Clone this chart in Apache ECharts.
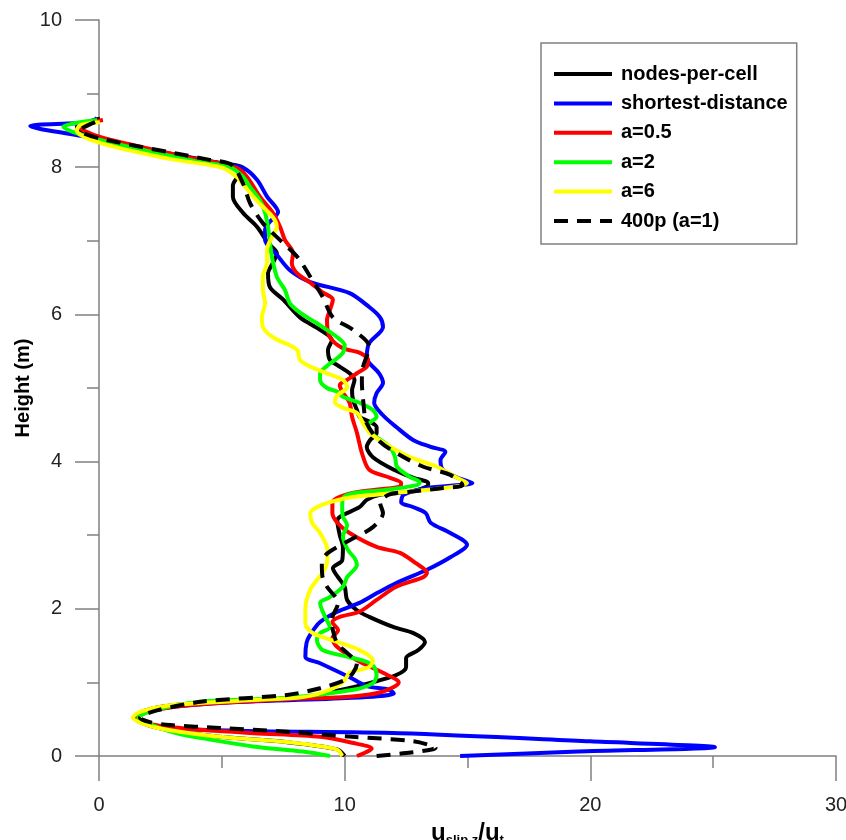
<!DOCTYPE html>
<html><head><meta charset="utf-8">
<script src="https://cdn.jsdelivr.net/npm/echarts@6/dist/echarts.min.js"></script>
<style>html,body{margin:0;padding:0;background:#fff}#c{width:846px;height:840px}</style>
</head><body><div id="c"></div>
<script>
const seriesNames = ['nodes-per-cell','shortest-distance','a=0.5','a=2','a=6','400p (a=1)'];
const xTicks = [0,10,20,30];
const yTicks = [0,2,4,6,8,10];

const nodesPerCell = [[10.0,0.0],[9.7,0.09],[7.6,0.19],[4.9,0.26],[2.9,0.35],[1.9,0.43],[1.45,0.52],[1.8,0.61],[3.0,0.69],[6.3,0.76],[8.4,0.8],[9.6,0.88],[11.0,0.99],[12.1,1.1],[12.5,1.21],[12.5,1.33],[13.0,1.44],[13.27,1.55],[12.8,1.67],[12.0,1.75],[11.0,1.89],[10.5,1.98],[10.1,2.12],[10.0,2.3],[9.73,2.43],[9.52,2.55],[9.9,2.66],[9.93,2.84],[9.8,3.0],[9.7,3.2],[10.6,3.38],[10.9,3.48],[11.44,3.55],[12.66,3.59],[13.35,3.66],[13.4,3.71],[12.8,3.78],[12.0,3.89],[11.15,4.06],[10.9,4.2],[11.03,4.29],[11.3,4.39],[11.3,4.47],[11.03,4.54],[10.6,4.61],[10.5,4.7],[10.34,4.84],[10.3,4.97],[10.4,5.11],[10.2,5.2],[9.7,5.31],[9.4,5.38],[9.32,5.52],[9.48,5.65],[9.0,5.79],[8.18,5.96],[7.5,6.2],[6.96,6.37],[6.88,6.56],[7.08,6.7],[7.24,6.83],[6.88,6.97],[6.43,7.19],[5.86,7.38],[5.45,7.6],[5.45,7.75],[5.6,7.85],[5.9,7.98],[4.5,8.08],[0.04,8.38],[-0.9,8.55],[0.04,8.66]];
const shortestDistance = [[14.7,0.0],[19.5,0.06],[25.07,0.12],[20,0.2],[12.25,0.31],[6,0.34],[3,0.37],[2.0,0.42],[1.55,0.52],[2.2,0.63],[4.9,0.72],[10.3,0.79],[12.0,0.85],[11.8,0.9],[10.9,0.95],[10.2,1.07],[9.0,1.26],[8.4,1.35],[8.45,1.54],[8.6,1.65],[9.0,1.82],[9.7,1.96],[10.6,2.08],[11.3,2.21],[12.1,2.35],[13.35,2.53],[14.3,2.7],[14.98,2.87],[14.3,3.03],[13.5,3.17],[13.3,3.30],[12.8,3.38],[12.3,3.45],[12.4,3.55],[13.35,3.64],[15.2,3.71],[14.6,3.78],[14.0,3.89],[13.9,4.02],[14.1,4.13],[13.5,4.2],[12.8,4.29],[12.1,4.47],[11.56,4.63],[11.2,4.80],[11.3,4.93],[11.56,5.07],[11.4,5.2],[11.0,5.34],[10.9,5.42],[11.0,5.61],[11.56,5.83],[11.44,5.96],[11.0,6.1],[10.2,6.29],[8.6,6.44],[7.77,6.6],[7.24,6.81],[6.76,7.01],[6.76,7.15],[6.96,7.26],[7.29,7.39],[6.84,7.6],[6.43,7.83],[5.86,7.99],[4.8,8.06],[2.5,8.2],[0.04,8.34],[-0.37,8.40],[-2.8,8.56],[-0.37,8.61],[-0.08,8.67]];
const a05 = [[10.5,0.0],[11.1,0.1],[10.3,0.18],[9.0,0.26],[6.3,0.31],[3.6,0.37],[2.5,0.41],[1.5,0.5],[2.0,0.6],[3.6,0.69],[7.65,0.77],[10.3,0.81],[11.5,0.87],[12.2,1.0],[11.56,1.13],[10.5,1.3],[9.7,1.48],[9.5,1.6],[9.73,1.71],[9.5,1.82],[9.8,1.89],[10.6,1.96],[11.3,2.12],[12.1,2.3],[13.2,2.43],[13.35,2.49],[12.9,2.62],[12.25,2.76],[11.3,2.84],[10.2,3.03],[9.7,3.17],[9.5,3.3],[9.5,3.44],[9.8,3.52],[10.6,3.59],[12.25,3.66],[12.3,3.71],[11.85,3.78],[11.0,3.89],[10.7,4.12],[10.5,4.39],[10.3,4.61],[10.2,4.8],[9.9,4.95],[9.8,5.04],[10.1,5.11],[10.5,5.2],[10.9,5.29],[10.95,5.38],[10.6,5.48],[9.93,5.54],[9.4,5.69],[9.28,5.92],[9.4,6.06],[9.52,6.2],[9.1,6.3],[8.6,6.43],[8.06,6.56],[7.85,6.7],[7.9,6.83],[7.57,7.01],[7.37,7.19],[7.08,7.38],[6.55,7.6],[6.02,7.87],[5.6,7.99],[4.8,8.06],[4.1,8.1],[0.04,8.41],[-0.8,8.55],[0.16,8.64]];
const a2 = [[9.4,0.0],[8.3,0.06],[6.27,0.13],[4.23,0.24],[3.17,0.31],[2.48,0.38],[1.8,0.47],[1.6,0.52],[2.2,0.62],[4.23,0.74],[7.65,0.79],[10.35,0.9],[11.15,0.99],[11.3,1.1],[11.2,1.21],[10.9,1.28],[10.1,1.35],[9.1,1.44],[8.87,1.58],[9.0,1.67],[9.4,1.75],[9.2,1.89],[9.0,2.08],[9.4,2.16],[9.93,2.3],[10.1,2.43],[10.5,2.6],[10.4,2.69],[10.13,2.8],[9.93,2.98],[10.1,3.14],[9.93,3.25],[9.9,3.38],[9.93,3.5],[10.34,3.57],[11.56,3.61],[12.94,3.68],[13.06,3.72],[12.66,3.79],[12.13,3.93],[12.05,4.06],[11.84,4.2],[11.3,4.33],[10.95,4.43],[11.0,4.52],[11.3,4.61],[11.15,4.7],[10.6,4.8],[9.93,4.88],[9.7,4.95],[9.28,5.0],[9.0,5.11],[9.0,5.2],[9.28,5.3],[9.6,5.38],[9.93,5.48],[10.0,5.58],[9.7,5.69],[8.87,5.88],[8.2,6.02],[7.77,6.15],[7.57,6.33],[7.24,6.51],[7.04,6.78],[6.96,6.97],[6.88,7.19],[6.76,7.38],[6.55,7.55],[6.15,7.73],[5.86,7.87],[5.33,8.0],[4.1,8.07],[0.04,8.37],[-1.45,8.55],[-0.08,8.64]];
const a6 = [[9.9,0.0],[9.73,0.08],[9.28,0.12],[7.65,0.19],[4.92,0.26],[2.9,0.35],[1.95,0.42],[1.38,0.52],[1.67,0.6],[2.9,0.69],[6.27,0.76],[8.3,0.8],[9.4,0.9],[10.0,1.03],[10.2,1.13],[11.0,1.21],[11.15,1.3],[10.6,1.44],[9.7,1.55],[8.7,1.67],[8.4,1.8],[8.4,1.98],[8.6,2.26],[9.1,2.49],[9.28,2.62],[9.3,2.8],[9.0,3.03],[8.67,3.17],[8.6,3.3],[8.87,3.38],[9.4,3.45],[10.34,3.52],[11.97,3.57],[14.0,3.64],[14.98,3.71],[14.57,3.78],[13.76,3.93],[12.66,4.06],[11.72,4.23],[11.03,4.39],[10.75,4.52],[10.5,4.66],[9.93,4.73],[9.6,4.81],[9.7,4.9],[10.1,5.01],[9.93,5.11],[9.28,5.2],[8.6,5.29],[8.18,5.38],[8.06,5.52],[7.08,5.69],[6.67,5.83],[6.63,5.96],[6.76,6.15],[6.67,6.33],[6.67,6.51],[6.84,6.7],[6.84,6.88],[7.04,7.05],[7.24,7.19],[7.08,7.32],[6.67,7.46],[6.15,7.65],[5.6,7.87],[5.05,7.99],[4.5,8.03],[2.77,8.12],[0.04,8.33],[-0.9,8.5],[-0.77,8.57],[0.04,8.61]];
const p400 = [[11.3,0.0],[12.5,0.04],[13.7,0.11],[12.8,0.2],[10.3,0.26],[7.65,0.33],[4.92,0.38],[2.9,0.42],[2.07,0.46],[1.67,0.52],[2.36,0.62],[4.23,0.74],[7.65,0.83],[9.0,0.92],[10.0,1.03],[10.34,1.13],[10.5,1.26],[10.1,1.4],[9.7,1.53],[9.52,1.71],[9.48,1.85],[9.73,2.08],[9.28,2.3],[9.1,2.43],[9.07,2.62],[9.32,2.76],[10.2,2.93],[11.15,3.11],[11.56,3.3],[11.44,3.44],[11.8,3.55],[12.66,3.59],[14.0,3.64],[14.8,3.68],[14.3,3.82],[13.2,3.93],[12.25,4.09],[11.44,4.27],[10.9,4.52],[10.75,4.84],[10.7,5.1],[10.75,5.29],[11.0,5.56],[10.34,5.79],[9.52,5.96],[9.1,6.24],[8.6,6.51],[8.1,6.77],[7.37,7.01],[6.67,7.24],[6.15,7.51],[5.86,7.78],[5.41,8.03],[4.5,8.1],[0.04,8.39],[-0.77,8.5],[0.04,8.64]];

const chart = echarts.init(document.getElementById('c'), null, {renderer:'canvas'});
const axisGray = '#808080';
const FONT = 'Liberation Sans, Arial, sans-serif';
// data grid spans x from -3 to 30 at the same scale as the visible axis grid (0..30)
const plotLeft = 99, plotRight = 10, plotTop = 20, plotBottom = 84;
const xMinData = -3, xMax = 30;
const pxPerUnit = (846 - plotLeft - plotRight) / xMax;
const dataLeft = plotLeft + xMinData * pxPerUnit;

function mk(name, data, color, z, dashed){
  return {name, type:'line', data, z, clip:false, symbol:'none', smooth:0.3,
    xAxisIndex:0, yAxisIndex:0,
    lineStyle:{color, width:4, type: dashed ? [14,9] : 'solid', cap:'butt', join:'round'},
    itemStyle:{color}};
}
chart.setOption({
  animation:false,
  backgroundColor:'#fff',
  grid:[
    {left:dataLeft, right:plotRight, top:plotTop, bottom:plotBottom, outerBoundsMode:'none', containLabel:false},
    {left:plotLeft, right:plotRight, top:plotTop, bottom:plotBottom, outerBoundsMode:'none', containLabel:false}
  ],
  legend:{
    data:seriesNames, orient:'vertical', left:541, top:43,
    padding:[21,9,13,11], itemGap:9.4, itemWidth:58, itemHeight:14,
    borderColor:'#808080', borderWidth:1.5, backgroundColor:'#fff',
    itemStyle:{color:'rgba(0,0,0,0)', borderColor:'rgba(0,0,0,0)', borderWidth:0, opacity:0},
    lineStyle:{width:4},
    textStyle:{fontFamily:FONT, fontWeight:'bold', fontSize:20, color:'#000', padding:[0,0,0,4]}
  },
  xAxis:[
    {type:'value', gridIndex:0, min:xMinData, max:xMax, show:false},
    {
      type:'value', gridIndex:1, min:0, max:xMax, interval:10,
      axisLine:{show:true, onZero:false, lineStyle:{color:axisGray, width:1.5}},
      axisTick:{show:true, inside:false, length:25, lineStyle:{color:axisGray, width:1.5}},
      minorTick:{show:true, splitNumber:2, length:12, lineStyle:{color:axisGray, width:1.5}},
      splitLine:{show:false},
      axisLabel:{margin:39, fontFamily:FONT, fontSize:20, color:'#222',
        formatter:v=> xTicks.includes(v) ? String(v) : ''},
      name:'{a|u}{b|slip,z}{a|/u}{b|t}', nameLocation:'middle', nameGap:63,
      nameTextStyle:{rich:{
        a:{fontFamily:FONT, fontWeight:'bold', fontSize:24, color:'#000', lineHeight:26},
        b:{fontFamily:FONT, fontWeight:'bold', fontSize:13, color:'#000', lineHeight:26, padding:[14,0,0,0]}
      }}
    }
  ],
  yAxis:[
    {type:'value', gridIndex:0, min:0, max:10, show:false},
    {
      type:'value', gridIndex:1, min:0, max:10, interval:2,
      axisLine:{show:true, onZero:false, lineStyle:{color:axisGray, width:1.5}},
      axisTick:{show:true, inside:false, length:24, lineStyle:{color:axisGray, width:1.5}},
      minorTick:{show:true, splitNumber:2, length:12, lineStyle:{color:axisGray, width:1.5}},
      splitLine:{show:false},
      axisLabel:{margin:37, fontFamily:FONT, fontSize:20, color:'#222',
        formatter:v=> yTicks.includes(v) ? String(v) : ''},
      name:'Height (m)', nameLocation:'middle', nameGap:66, nameRotate:90, nameMoveOverlap:false,
      nameTextStyle:{fontFamily:FONT, fontWeight:'bold', fontSize:20, color:'#000'}
    }
  ],
  series:[
    mk(seriesNames[0], nodesPerCell, '#000000', 2, false),
    mk(seriesNames[1], shortestDistance, '#0000ff', 3, false),
    mk(seriesNames[2], a05, '#ff0000', 4, false),
    mk(seriesNames[3], a2, '#00ff00', 5, false),
    mk(seriesNames[4], a6, '#ffff00', 6, false),
    mk(seriesNames[5], p400, '#000000', 7, true)
  ]
});
</script></body></html>
